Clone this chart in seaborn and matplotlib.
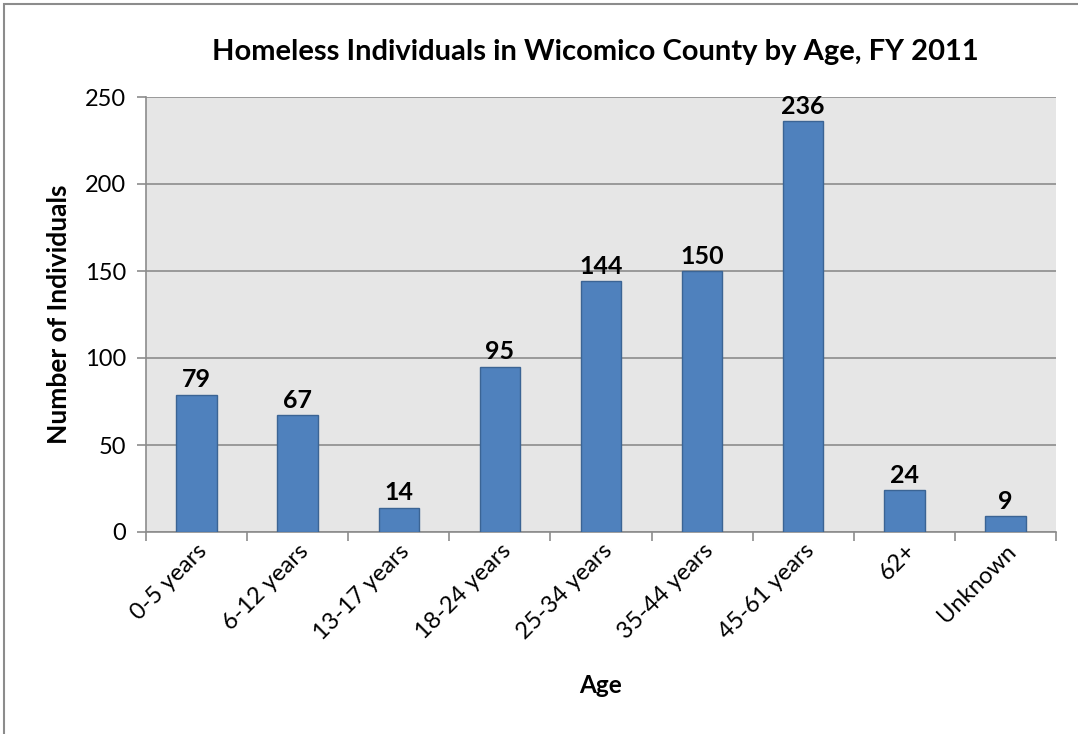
import matplotlib
matplotlib.use("Agg")
import matplotlib.pyplot as plt
import seaborn as sns
import pandas as pd

categories = ["0-5 years", "6-12 years", "13-17 years", "18-24 years", "25-34 years",
              "35-44 years", "45-61 years", "62+", "Unknown"]
counts = [79, 67, 14, 95, 144, 150, 236, 24, 9]
y_ticks = [0, 50, 100, 150, 200, 250]

sns.set_theme(style="white")
plt.rcParams["font.family"] = ["Lato", "DejaVu Sans"]
plt.rcParams["text.color"] = "black"
plt.rcParams["xtick.color"] = "black"
plt.rcParams["ytick.color"] = "black"
plt.rcParams["axes.labelcolor"] = "black"

df = pd.DataFrame({"Age": categories, "Count": counts})

fig = plt.figure(figsize=(10.78, 7.34), dpi=100)
ax = fig.add_axes([146 / 1078, 1 - 532 / 734, (1056 - 146) / 1078, (532 - 97) / 734])
ax.set_facecolor("#e6e6e6")

sns.barplot(data=df, x="Age", y="Count", ax=ax, color="#4f81bd", width=0.4,
            edgecolor="#3b6494", linewidth=1.0, saturation=1, zorder=3)

ax.set_ylim(0, 250)
ax.set_xlim(-0.5, len(categories) - 0.5)
ax.set_yticks(y_ticks)
ax.yaxis.grid(True, color="#8c8c8c", linewidth=1.2, zorder=0)
ax.set_axisbelow(True)

for spine in ["top", "right"]:
    ax.spines[spine].set_visible(False)
ax.spines["left"].set_color("#8c8c8c")
ax.spines["bottom"].set_color("#8c8c8c")
ax.spines["left"].set_linewidth(1.2)
ax.spines["bottom"].set_linewidth(1.2)

ax.tick_params(axis="y", which="major", length=6.5, width=1.2, color="#8c8c8c",
               left=True, labelsize=17, pad=8, labelcolor="black")
ax.tick_params(axis="x", which="major", length=0, labelsize=17, pad=6, labelcolor="black")
# category boundary ticks on the x axis
ax.set_xticks([i - 0.5 for i in range(len(categories) + 1)], minor=True)
ax.tick_params(axis="x", which="minor", length=6.5, width=1.2, color="#8c8c8c", bottom=True)
plt.setp(ax.get_xticklabels(), rotation=45, ha="right", rotation_mode="anchor")

for i, v in enumerate(counts):
    ax.text(i, v + 2, str(v), ha="center", va="bottom", fontsize=18, fontweight="bold")

ax.set_xlabel("Age", fontsize=17.5, fontweight="bold", labelpad=22)
ax.set_ylabel("Number of Individuals", fontsize=19, fontweight="bold", labelpad=10)
fig.text(595 / 1078, 1 - 52 / 734, "Homeless Individuals in Wicomico County by Age, FY 2011",
         ha="center", va="center", fontsize=21, fontweight="bold")

# chart border
fig.patches.append(plt.Rectangle((4 / 1078, -0.01), 1.2, 1 - 4 / 734 + 0.01,
                                 transform=fig.transFigure, fill=False,
                                 edgecolor="#8c8c8c", linewidth=1.5))

fig.savefig("out.png", dpi=100, facecolor="white")
